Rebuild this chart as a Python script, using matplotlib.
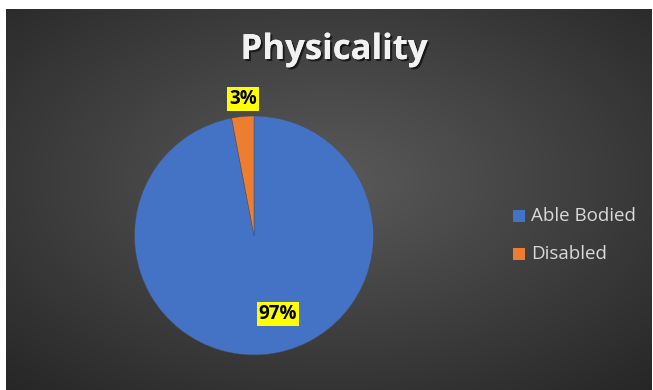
import numpy as np
import matplotlib.pyplot as plt
import matplotlib.patheffects as pe

# chart data
categories = ["Able Bodied", "Disabled"]
shares = [97, 3]
colors = ["#4472C4", "#ED7D31"]
title = "Physicality"

W, H = 653, 390
fig = plt.figure(figsize=(W / 100, H / 100), dpi=100)
fig.patch.set_facecolor("white")

# dark radial-gradient panel (white margin at top/left like the reference)
x0, y0, x1, y1 = 6, 9, 652, 390
bg = fig.add_axes([x0 / W, 1 - y1 / H, (x1 - x0) / W, (y1 - y0) / H])
yy, xx = np.mgrid[0:1:200j, 0:1:300j]
r = np.sqrt(((xx - 0.5) / 0.75) ** 2 + ((yy - 0.45) / 0.75) ** 2)
r = np.clip(r, 0, 1)
inner = np.array([0x5a, 0x5a, 0x5a]) / 255
outer = np.array([0x26, 0x26, 0x26]) / 255
img = inner[None, None, :] * (1 - r[..., None]) + outer[None, None, :] * r[..., None]
bg.imshow(img, aspect="auto", extent=[0, 1, 0, 1], origin="upper")
bg.axis("off")

# pie axes: centre (254, 235.5), radius ~119.5 px
cx, cy, rad = 254, 235.5, 119.5
ax = fig.add_axes([(cx - rad) / W, 1 - (cy + rad) / H, 2 * rad / W, 2 * rad / H])
wedges, _ = ax.pie(shares, colors=colors, startangle=90, counterclock=False,
                   radius=1.0, wedgeprops=dict(linewidth=0.3, edgecolor="#4a4a4a"))
ax.set_xlim(-1, 1)
ax.set_ylim(-1, 1)
ax.set_aspect("equal")
ax.axis("off")

box = dict(boxstyle="square,pad=0.1", facecolor="#FFFF00", edgecolor="none")
ax.text(0.20, -0.66, f"{shares[0]}%", ha="center", va="center", fontsize=13.5,
        fontweight="bold", family="Open Sans", color="black", bbox=box)
ax.text(-0.09, 1.14, f"{shares[1]}%", ha="center", va="center", fontsize=13.5,
        fontweight="bold", family="Open Sans", color="black", bbox=box)

# title with soft shadow
fig.text(334 / W, 1 - 50 / H, title, ha="center", va="center", fontsize=25,
         fontweight="bold", family="Open Sans", color="#F2F2F2",
         path_effects=[pe.withSimplePatchShadow(offset=(1.5, -1.5), shadow_rgbFace="black", alpha=0.6),
                       pe.Normal()])

# legend
leg_y = [216, 254]
for cat, col, yp in zip(categories, colors, leg_y):
    fig.patches.append(plt.Rectangle((513 / W, 1 - (yp + 6) / H), 12 / W, 12 / H,
                                     transform=fig.transFigure, facecolor=col, edgecolor="none"))
    fig.text(531 / W, 1 - yp / H, cat, ha="left", va="center", fontsize=13.5,
             family="Open Sans", color="#D9D9D9")

fig.savefig("out.png", dpi=100, facecolor=fig.get_facecolor())
